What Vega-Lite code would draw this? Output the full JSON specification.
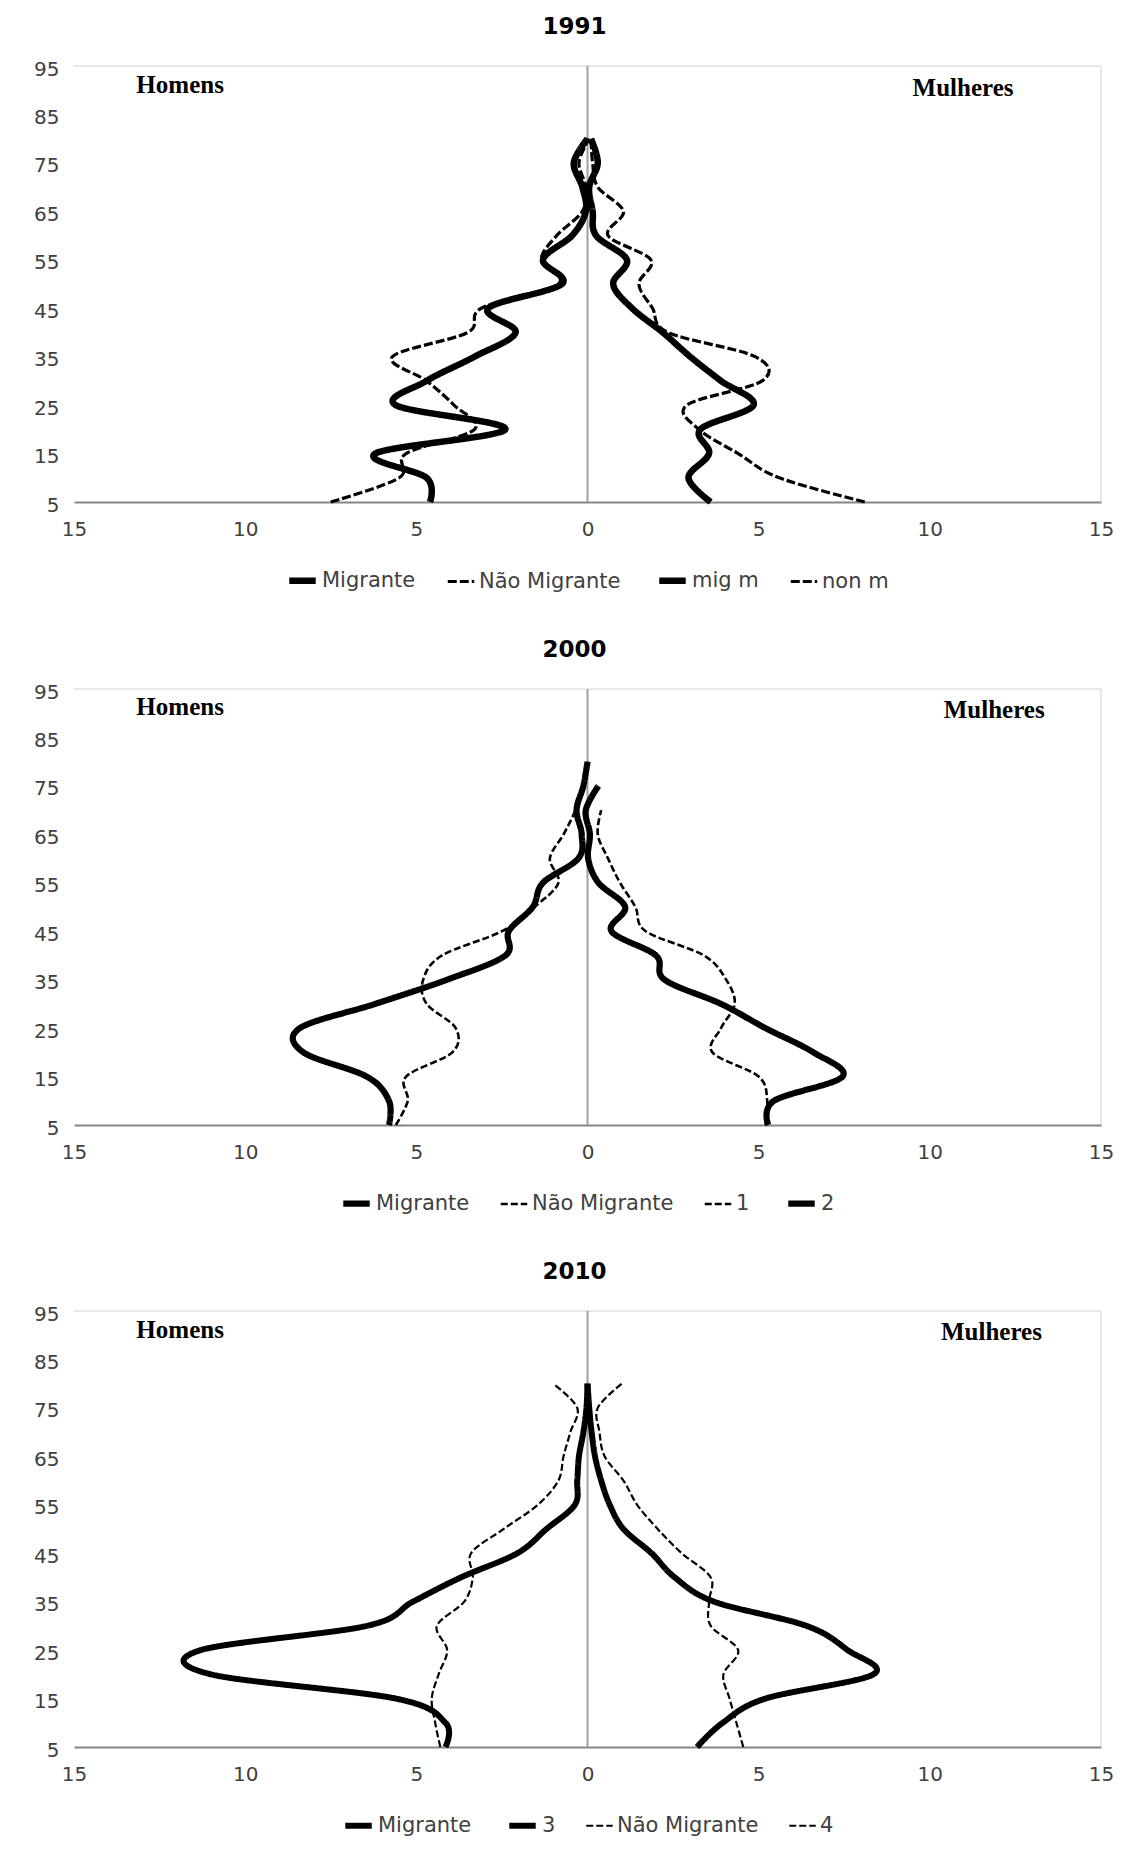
{
  "$schema": "https://vega.github.io/schema/vega-lite/v6.json",
  "padding": {"left": 33, "top": 16, "right": 0, "bottom": 0},
  "background": "white",
  "datasets": {
    "pop": [
      {"panel":"1991","series":"Migrante","age":5,"v":-4.6},{"panel":"1991","series":"Migrante","age":10,"v":-4.7},{"panel":"1991","series":"Migrante","age":15,"v":-6.2},{"panel":"1991","series":"Migrante","age":20,"v":-2.4},{"panel":"1991","series":"Migrante","age":25,"v":-5.6},{"panel":"1991","series":"Migrante","age":30,"v":-4.7},{"panel":"1991","series":"Migrante","age":35,"v":-3.3},{"panel":"1991","series":"Migrante","age":40,"v":-2.1},{"panel":"1991","series":"Migrante","age":45,"v":-2.9},{"panel":"1991","series":"Migrante","age":50,"v":-0.75},{"panel":"1991","series":"Migrante","age":55,"v":-1.3},{"panel":"1991","series":"Migrante","age":60,"v":-0.45},{"panel":"1991","series":"Migrante","age":65,"v":-0.05},{"panel":"1991","series":"Migrante","age":70,"v":-0.15},{"panel":"1991","series":"Migrante","age":75,"v":-0.4},{"panel":"1991","series":"Migrante","age":80,"v":0.0},
      {"panel":"1991","series":"Não Migrante","age":5,"v":-7.5},{"panel":"1991","series":"Não Migrante","age":10,"v":-5.5},{"panel":"1991","series":"Não Migrante","age":15,"v":-5.3},{"panel":"1991","series":"Não Migrante","age":20,"v":-3.3},{"panel":"1991","series":"Não Migrante","age":25,"v":-3.9},{"panel":"1991","series":"Não Migrante","age":30,"v":-4.7},{"panel":"1991","series":"Não Migrante","age":35,"v":-5.7},{"panel":"1991","series":"Não Migrante","age":40,"v":-3.5},{"panel":"1991","series":"Não Migrante","age":45,"v":-3.1},{"panel":"1991","series":"Não Migrante","age":50,"v":-0.85},{"panel":"1991","series":"Não Migrante","age":55,"v":-1.35},{"panel":"1991","series":"Não Migrante","age":60,"v":-0.9},{"panel":"1991","series":"Não Migrante","age":65,"v":-0.15},{"panel":"1991","series":"Não Migrante","age":70,"v":-0.05},{"panel":"1991","series":"Não Migrante","age":75,"v":-0.25},{"panel":"1991","series":"Não Migrante","age":80,"v":0.05},
      {"panel":"1991","series":"mig m","age":5,"v":3.6},{"panel":"1991","series":"mig m","age":10,"v":2.95},{"panel":"1991","series":"mig m","age":15,"v":3.55},{"panel":"1991","series":"mig m","age":20,"v":3.3},{"panel":"1991","series":"mig m","age":25,"v":4.85},{"panel":"1991","series":"mig m","age":30,"v":3.9},{"panel":"1991","series":"mig m","age":35,"v":3.0},{"panel":"1991","series":"mig m","age":40,"v":2.2},{"panel":"1991","series":"mig m","age":45,"v":1.3},{"panel":"1991","series":"mig m","age":50,"v":0.75},{"panel":"1991","series":"mig m","age":55,"v":1.15},{"panel":"1991","series":"mig m","age":60,"v":0.25},{"panel":"1991","series":"mig m","age":65,"v":0.15},{"panel":"1991","series":"mig m","age":70,"v":0.05},{"panel":"1991","series":"mig m","age":75,"v":0.3},{"panel":"1991","series":"mig m","age":80,"v":0.1},
      {"panel":"1991","series":"non m","age":5,"v":8.1},{"panel":"1991","series":"non m","age":10,"v":5.6},{"panel":"1991","series":"non m","age":15,"v":4.4},{"panel":"1991","series":"non m","age":20,"v":3.25},{"panel":"1991","series":"non m","age":25,"v":2.9},{"panel":"1991","series":"non m","age":30,"v":5.1},{"panel":"1991","series":"non m","age":35,"v":4.9},{"panel":"1991","series":"non m","age":40,"v":2.35},{"panel":"1991","series":"non m","age":45,"v":1.9},{"panel":"1991","series":"non m","age":50,"v":1.5},{"panel":"1991","series":"non m","age":55,"v":1.85},{"panel":"1991","series":"non m","age":60,"v":0.6},{"panel":"1991","series":"non m","age":65,"v":1.05},{"panel":"1991","series":"non m","age":70,"v":0.3},{"panel":"1991","series":"non m","age":75,"v":0.15},{"panel":"1991","series":"non m","age":80,"v":0.1},

      {"panel":"2000","series":"Migrante","age":5,"v":-5.8},{"panel":"2000","series":"Migrante","age":10,"v":-5.8},{"panel":"2000","series":"Migrante","age":15,"v":-6.45},{"panel":"2000","series":"Migrante","age":20,"v":-8.3},{"panel":"2000","series":"Migrante","age":25,"v":-8.4},{"panel":"2000","series":"Migrante","age":30,"v":-6.2},{"panel":"2000","series":"Migrante","age":35,"v":-4.1},{"panel":"2000","series":"Migrante","age":40,"v":-2.4},{"panel":"2000","series":"Migrante","age":45,"v":-2.3},{"panel":"2000","series":"Migrante","age":50,"v":-1.6},{"panel":"2000","series":"Migrante","age":55,"v":-1.3},{"panel":"2000","series":"Migrante","age":60,"v":-0.27},{"panel":"2000","series":"Migrante","age":65,"v":-0.17},{"panel":"2000","series":"Migrante","age":70,"v":-0.32},{"panel":"2000","series":"Migrante","age":75,"v":-0.12},{"panel":"2000","series":"Migrante","age":80,"v":0.0},
      {"panel":"2000","series":"Não Migrante","age":5,"v":-5.6},{"panel":"2000","series":"Não Migrante","age":10,"v":-5.25},{"panel":"2000","series":"Não Migrante","age":15,"v":-5.3},{"panel":"2000","series":"Não Migrante","age":20,"v":-3.95},{"panel":"2000","series":"Não Migrante","age":25,"v":-3.85},{"panel":"2000","series":"Não Migrante","age":30,"v":-4.7},{"panel":"2000","series":"Não Migrante","age":35,"v":-4.8},{"panel":"2000","series":"Não Migrante","age":40,"v":-4.25},{"panel":"2000","series":"Não Migrante","age":45,"v":-2.5},{"panel":"2000","series":"Não Migrante","age":50,"v":-1.55},{"panel":"2000","series":"Não Migrante","age":55,"v":-0.85},{"panel":"2000","series":"Não Migrante","age":60,"v":-1.1},{"panel":"2000","series":"Não Migrante","age":65,"v":-0.7},{"panel":"2000","series":"Não Migrante","age":70,"v":-0.35},{"panel":"2000","series":"Não Migrante","age":75,"v":-0.12},
      {"panel":"2000","series":"2","age":5,"v":5.28},{"panel":"2000","series":"2","age":10,"v":5.45},{"panel":"2000","series":"2","age":15,"v":7.45},{"panel":"2000","series":"2","age":20,"v":6.6},{"panel":"2000","series":"2","age":25,"v":5.2},{"panel":"2000","series":"2","age":30,"v":3.9},{"panel":"2000","series":"2","age":35,"v":2.25},{"panel":"2000","series":"2","age":40,"v":2.0},{"panel":"2000","series":"2","age":45,"v":0.7},{"panel":"2000","series":"2","age":50,"v":1.1},{"panel":"2000","series":"2","age":55,"v":0.32},{"panel":"2000","series":"2","age":60,"v":0.02},{"panel":"2000","series":"2","age":65,"v":0.07},{"panel":"2000","series":"2","age":70,"v":-0.05},{"panel":"2000","series":"2","age":75,"v":0.32},
      {"panel":"2000","series":"1","age":5,"v":5.2},{"panel":"2000","series":"1","age":10,"v":5.25},{"panel":"2000","series":"1","age":15,"v":5.0},{"panel":"2000","series":"1","age":20,"v":3.65},{"panel":"2000","series":"1","age":25,"v":3.9},{"panel":"2000","series":"1","age":30,"v":4.3},{"panel":"2000","series":"1","age":35,"v":4.05},{"panel":"2000","series":"1","age":40,"v":3.4},{"panel":"2000","series":"1","age":45,"v":1.7},{"panel":"2000","series":"1","age":50,"v":1.4},{"panel":"2000","series":"1","age":55,"v":0.95},{"panel":"2000","series":"1","age":60,"v":0.6},{"panel":"2000","series":"1","age":65,"v":0.3},{"panel":"2000","series":"1","age":70,"v":0.4},

      {"panel":"2010","series":"Migrante","age":5,"v":-4.15},{"panel":"2010","series":"Migrante","age":10,"v":-4.15},{"panel":"2010","series":"Migrante","age":15,"v":-5.6},{"panel":"2010","series":"Migrante","age":20,"v":-11.0},{"panel":"2010","series":"Migrante","age":25,"v":-11.3},{"panel":"2010","series":"Migrante","age":30,"v":-6.45},{"panel":"2010","series":"Migrante","age":35,"v":-5.1},{"panel":"2010","series":"Migrante","age":40,"v":-3.7},{"panel":"2010","series":"Migrante","age":45,"v":-2.05},{"panel":"2010","series":"Migrante","age":50,"v":-1.2},{"panel":"2010","series":"Migrante","age":55,"v":-0.37},{"panel":"2010","series":"Migrante","age":60,"v":-0.3},{"panel":"2010","series":"Migrante","age":65,"v":-0.25},{"panel":"2010","series":"Migrante","age":70,"v":-0.12},{"panel":"2010","series":"Migrante","age":75,"v":-0.03},{"panel":"2010","series":"Migrante","age":80,"v":0.0},
      {"panel":"2010","series":"Não Migrante","age":5,"v":-4.3},{"panel":"2010","series":"Não Migrante","age":10,"v":-4.45},{"panel":"2010","series":"Não Migrante","age":15,"v":-4.55},{"panel":"2010","series":"Não Migrante","age":20,"v":-4.35},{"panel":"2010","series":"Não Migrante","age":25,"v":-4.1},{"panel":"2010","series":"Não Migrante","age":30,"v":-4.4},{"panel":"2010","series":"Não Migrante","age":35,"v":-3.6},{"panel":"2010","series":"Não Migrante","age":40,"v":-3.35},{"panel":"2010","series":"Não Migrante","age":45,"v":-3.4},{"panel":"2010","series":"Não Migrante","age":50,"v":-2.45},{"panel":"2010","series":"Não Migrante","age":55,"v":-1.45},{"panel":"2010","series":"Não Migrante","age":60,"v":-0.85},{"panel":"2010","series":"Não Migrante","age":65,"v":-0.7},{"panel":"2010","series":"Não Migrante","age":70,"v":-0.5},{"panel":"2010","series":"Não Migrante","age":75,"v":-0.3},{"panel":"2010","series":"Não Migrante","age":80,"v":-1.0},
      {"panel":"2010","series":"3","age":5,"v":3.2},{"panel":"2010","series":"3","age":10,"v":3.95},{"panel":"2010","series":"3","age":15,"v":5.2},{"panel":"2010","series":"3","age":20,"v":8.35},{"panel":"2010","series":"3","age":25,"v":7.6},{"panel":"2010","series":"3","age":30,"v":6.4},{"panel":"2010","series":"3","age":35,"v":3.7},{"panel":"2010","series":"3","age":40,"v":2.55},{"panel":"2010","series":"3","age":45,"v":1.87},{"panel":"2010","series":"3","age":50,"v":1.05},{"panel":"2010","series":"3","age":55,"v":0.65},{"panel":"2010","series":"3","age":60,"v":0.4},{"panel":"2010","series":"3","age":65,"v":0.22},{"panel":"2010","series":"3","age":70,"v":0.12},{"panel":"2010","series":"3","age":75,"v":0.05},{"panel":"2010","series":"3","age":80,"v":0.0},
      {"panel":"2010","series":"4","age":5,"v":4.55},{"panel":"2010","series":"4","age":10,"v":4.35},{"panel":"2010","series":"4","age":15,"v":4.15},{"panel":"2010","series":"4","age":20,"v":3.97},{"panel":"2010","series":"4","age":25,"v":4.4},{"panel":"2010","series":"4","age":30,"v":3.6},{"panel":"2010","series":"4","age":35,"v":3.55},{"panel":"2010","series":"4","age":40,"v":3.6},{"panel":"2010","series":"4","age":45,"v":2.75},{"panel":"2010","series":"4","age":50,"v":2.05},{"panel":"2010","series":"4","age":55,"v":1.45},{"panel":"2010","series":"4","age":60,"v":1.05},{"panel":"2010","series":"4","age":65,"v":0.5},{"panel":"2010","series":"4","age":70,"v":0.35},{"panel":"2010","series":"4","age":75,"v":0.3},{"panel":"2010","series":"4","age":80,"v":1.0}
    ]
  },
  "config": {
    "font": "DejaVu Sans",
    "view": {"stroke": null},
    "concat": {"spacing": 45},
    "title": {"font": "DejaVu Sans", "fontSize": 23, "fontWeight": "bold", "color": "#000000", "offset": 20, "dx": -13},
    "axis": {"grid": false, "ticks": false, "title": null, "labelFlush": false, "labelFont": "DejaVu Sans", "labelFontSize": 20, "labelColor": "#404040"},
    "legend": {"orient": "bottom", "direction": "horizontal", "title": null, "labelFont": "DejaVu Sans", "labelFontSize": 21, "labelColor": "#404040", "symbolType": "stroke", "symbolSize": 700, "symbolStrokeColor": "black", "columnPadding": 25, "labelOffset": 3, "offset": 25, "layout": {"bottom": {"anchor": "middle"}}}
  },
  "vconcat": [
    {
      "title": "1991",
      "width": 1027, "height": 436,
      "resolve": {"scale": {"strokeDash": "independent", "strokeWidth": "independent"}},
      "layer": [
        {"data": {"values": [{}]}, "mark": {"type": "rule", "color": "#d0d0d0", "strokeWidth": 1}, "encoding": {"y": {"datum": 95, "type": "quantitative", "scale": {"domain": [5, 95], "nice": false}, "axis": {"values": [5,15,25,35,45,55,65,75,85,95], "domain": false, "labelPadding": 15, "labelOffset": 3}}}},
        {"data": {"values": [{}]}, "mark": {"type": "rule", "color": "#d0d0d0", "strokeWidth": 1}, "encoding": {"x": {"datum": 15, "type": "quantitative", "scale": {"domain": [-15, 15], "nice": false}, "axis": {"values": [-15,-10,-5,0,5,10,15], "labelExpr": "abs(datum.value)", "domainColor": "#868686", "domainWidth": 2, "labelPadding": 17}}}},
        {"data": {"values": [{}]}, "mark": {"type": "rule", "color": "#a0a0a0", "strokeWidth": 2}, "encoding": {"x": {"datum": 0}}},
        {
          "data": {"name": "pop"},
          "transform": [{"filter": "datum.panel === '1991'"}],
          "mark": {"type": "line", "interpolate": "cardinal", "color": "black", "strokeJoin": "round"},
          "encoding": {
            "x": {"field": "v", "type": "quantitative"},
            "y": {"field": "age", "type": "quantitative"},
            "order": {"field": "age", "type": "quantitative"},
            "strokeDash": {"field": "series", "type": "nominal", "scale": {"domain": ["Migrante", "Não Migrante", "mig m", "non m"], "range": [[1,0],[9,3],[1,0],[9,3]]}},
            "strokeWidth": {"field": "series", "type": "nominal", "scale": {"type": "ordinal", "domain": ["Migrante", "Não Migrante", "mig m", "non m"], "range": [6.5, 3.2, 6.5, 3.2]}}
          }
        },
        {"data": {"values": [{}]}, "mark": {"type": "text", "font": "Liberation Serif", "fontWeight": "bold", "fontSize": 25, "color": "#000000"}, "encoding": {"x": {"datum": -11.9}, "y": {"datum": 91.1}, "text": {"value": "Homens"}}},
        {"data": {"values": [{}]}, "mark": {"type": "text", "font": "Liberation Serif", "fontWeight": "bold", "fontSize": 25, "color": "#000000"}, "encoding": {"x": {"datum": 10.97}, "y": {"datum": 90.5}, "text": {"value": "Mulheres"}}}
      ]
    },
    {
      "title": "2000",
      "width": 1027, "height": 436,
      "resolve": {"scale": {"strokeDash": "independent", "strokeWidth": "independent"}},
      "layer": [
        {"data": {"values": [{}]}, "mark": {"type": "rule", "color": "#d0d0d0", "strokeWidth": 1}, "encoding": {"y": {"datum": 95, "type": "quantitative", "scale": {"domain": [5, 95], "nice": false}, "axis": {"values": [5,15,25,35,45,55,65,75,85,95], "domain": false, "labelPadding": 15, "labelOffset": 3}}}},
        {"data": {"values": [{}]}, "mark": {"type": "rule", "color": "#d0d0d0", "strokeWidth": 1}, "encoding": {"x": {"datum": 15, "type": "quantitative", "scale": {"domain": [-15, 15], "nice": false}, "axis": {"values": [-15,-10,-5,0,5,10,15], "labelExpr": "abs(datum.value)", "domainColor": "#868686", "domainWidth": 2, "labelPadding": 17}}}},
        {"data": {"values": [{}]}, "mark": {"type": "rule", "color": "#a0a0a0", "strokeWidth": 2}, "encoding": {"x": {"datum": 0}}},
        {
          "data": {"name": "pop"},
          "transform": [{"filter": "datum.panel === '2000'"}],
          "mark": {"type": "line", "interpolate": "cardinal", "color": "black", "strokeJoin": "round"},
          "encoding": {
            "x": {"field": "v", "type": "quantitative"},
            "y": {"field": "age", "type": "quantitative"},
            "order": {"field": "age", "type": "quantitative"},
            "strokeDash": {"field": "series", "type": "nominal", "scale": {"domain": ["Migrante", "Não Migrante", "1", "2"], "range": [[1,0],[7,3],[7,3],[1,0]]}},
            "strokeWidth": {"field": "series", "type": "nominal", "scale": {"type": "ordinal", "domain": ["Migrante", "Não Migrante", "1", "2"], "range": [6.2, 2.6, 2.6, 6.2]}}
          }
        },
        {"data": {"values": [{}]}, "mark": {"type": "text", "font": "Liberation Serif", "fontWeight": "bold", "fontSize": 25, "color": "#000000"}, "encoding": {"x": {"datum": -11.9}, "y": {"datum": 91.2}, "text": {"value": "Homens"}}},
        {"data": {"values": [{}]}, "mark": {"type": "text", "font": "Liberation Serif", "fontWeight": "bold", "fontSize": 25, "color": "#000000"}, "encoding": {"x": {"datum": 11.88}, "y": {"datum": 90.6}, "text": {"value": "Mulheres"}}}
      ]
    },
    {
      "title": "2010",
      "width": 1027, "height": 436,
      "resolve": {"scale": {"strokeDash": "independent", "strokeWidth": "independent"}},
      "layer": [
        {"data": {"values": [{}]}, "mark": {"type": "rule", "color": "#d0d0d0", "strokeWidth": 1}, "encoding": {"y": {"datum": 95, "type": "quantitative", "scale": {"domain": [5, 95], "nice": false}, "axis": {"values": [5,15,25,35,45,55,65,75,85,95], "domain": false, "labelPadding": 15, "labelOffset": 3}}}},
        {"data": {"values": [{}]}, "mark": {"type": "rule", "color": "#d0d0d0", "strokeWidth": 1}, "encoding": {"x": {"datum": 15, "type": "quantitative", "scale": {"domain": [-15, 15], "nice": false}, "axis": {"values": [-15,-10,-5,0,5,10,15], "labelExpr": "abs(datum.value)", "domainColor": "#868686", "domainWidth": 2, "labelPadding": 17}}}},
        {"data": {"values": [{}]}, "mark": {"type": "rule", "color": "#a0a0a0", "strokeWidth": 2}, "encoding": {"x": {"datum": 0}}},
        {
          "data": {"name": "pop"},
          "transform": [{"filter": "datum.panel === '2010'"}],
          "mark": {"type": "line", "interpolate": "cardinal", "color": "black", "strokeJoin": "round"},
          "encoding": {
            "x": {"field": "v", "type": "quantitative"},
            "y": {"field": "age", "type": "quantitative"},
            "order": {"field": "age", "type": "quantitative"},
            "strokeDash": {"field": "series", "type": "nominal", "scale": {"domain": ["Migrante", "3", "Não Migrante", "4"], "range": [[1,0],[1,0],[7,3],[7,3]]}},
            "strokeWidth": {"field": "series", "type": "nominal", "scale": {"type": "ordinal", "domain": ["Migrante", "3", "Não Migrante", "4"], "range": [6, 6, 2.2, 2.2]}}
          }
        },
        {"data": {"values": [{}]}, "mark": {"type": "text", "font": "Liberation Serif", "fontWeight": "bold", "fontSize": 25, "color": "#000000"}, "encoding": {"x": {"datum": -11.9}, "y": {"datum": 91.1}, "text": {"value": "Homens"}}},
        {"data": {"values": [{}]}, "mark": {"type": "text", "font": "Liberation Serif", "fontWeight": "bold", "fontSize": 25, "color": "#000000"}, "encoding": {"x": {"datum": 11.8}, "y": {"datum": 90.6}, "text": {"value": "Mulheres"}}}
      ]
    }
  ],
  "resolve": {"scale": {"strokeDash": "independent", "strokeWidth": "independent"}, "legend": {"strokeDash": "independent", "strokeWidth": "independent"}}
}
